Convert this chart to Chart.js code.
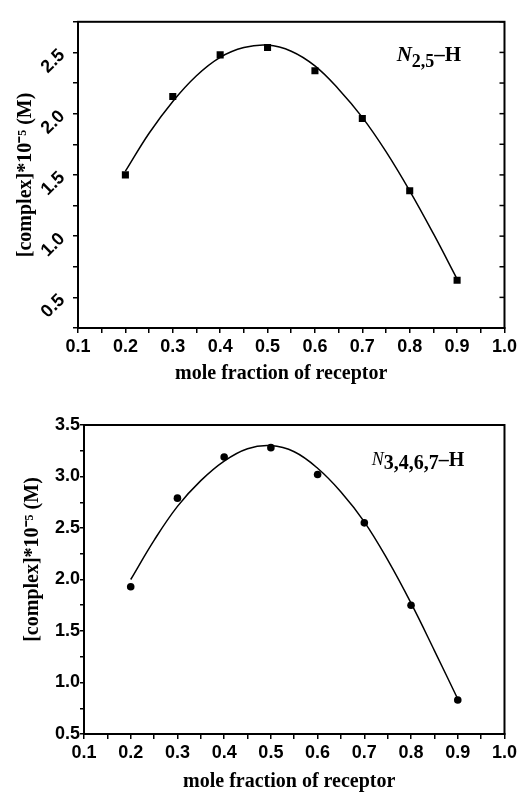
<!DOCTYPE html>
<html>
<head>
<meta charset="utf-8">
<script src="https://cdn.jsdelivr.net/npm/chart.js@4.4.1/dist/chart.umd.min.js"></script>
<style>
  body { margin: 0; background: #fff; }
  .panel { position: absolute; left: 0; width: 520px; }
  #top { top: 0; height: 390px; }
  #bottom { top: 390px; height: 405px; }
</style>
</head>
<body>
<div class="panel" id="top"><canvas id="chartTop" width="520" height="390"></canvas></div>
<div class="panel" id="bottom"><canvas id="chartBottom" width="520" height="405"></canvas></div>
<script>
// measured points (mole fraction of receptor)
var xValues = [0.2, 0.3, 0.4, 0.5, 0.6, 0.7, 0.8, 0.9];
var topPoints = [1.50, 2.14, 2.48, 2.54, 2.35, 1.96, 1.37, 0.64];
var bottomPoints = [1.93, 2.79, 3.19, 3.28, 3.02, 2.55, 1.75, 0.83];

// fitted curves
var fitX = [0.2, 0.25, 0.3, 0.35, 0.4, 0.45, 0.5, 0.55, 0.6, 0.65, 0.7, 0.75, 0.8, 0.85, 0.9];
var topFit = [1.53, 1.84, 2.10, 2.31, 2.46, 2.54, 2.56, 2.51, 2.39, 2.20, 1.97, 1.69, 1.37, 1.02, 0.65];
var bottomFit = [2.00, 2.38, 2.71, 2.96, 3.15, 3.27, 3.30, 3.24, 3.08, 2.85, 2.56, 2.19, 1.77, 1.31, 0.84];

// tick labels
var xTickLabels = ['0.1', '0.2', '0.3', '0.4', '0.5', '0.6', '0.7', '0.8', '0.9', '1.0'];
var topYTickLabels = ['0.5', '1.0', '1.5', '2.0', '2.5'];
var bottomYTickLabels = ['0.5', '1.0', '1.5', '2.0', '2.5', '3.0', '3.5'];

var sansBold = { family: '"Liberation Sans", Arial, sans-serif', size: 18, weight: 'bold' };
var serifBold = { family: '"Liberation Serif", "Times New Roman", serif', size: 20, weight: 'bold' };
var nbsp = '\u00A0';

function pairs(xs, ys) {
  return xs.map(function (x, i) { return { x: x, y: ys[i] }; });
}

function pickLabel(list, v) {
  for (var i = 0; i < list.length; i++) {
    if (Math.abs(parseFloat(list[i]) - v) < 1e-6) return list[i];
  }
  return '';
}

// box round the plot, inward right ticks, and the panel label
var framePlugin = {
  id: 'frame',
  afterDatasetsDraw: function (chart, args, opts) {
    var ctx = chart.ctx, a = chart.chartArea, y = chart.scales.y, x = chart.scales.x;
    ctx.save();
    ctx.strokeStyle = '#000';
    ctx.lineWidth = 2;
    ctx.strokeRect(a.left, a.top, a.right - a.left, a.bottom - a.top);
    if (opts.rightTicks) {
      ctx.lineWidth = 1.5;
      y.ticks.forEach(function (t) {
        var py = y.getPixelForValue(t.value);
        ctx.beginPath();
        ctx.moveTo(a.right, py);
        ctx.lineTo(a.right - 5, py);
        ctx.stroke();
      });
    }
    if (opts.label) {
      var px = x.getPixelForValue(opts.label.x);
      var py = y.getPixelForValue(opts.label.y);
      ctx.fillStyle = '#000';
      ctx.textBaseline = 'alphabetic';
      ctx.textAlign = 'left';
      opts.label.parts.forEach(function (p) {
        ctx.font = p.font;
        ctx.fillText(p.text, px, py + p.dy);
        px += ctx.measureText(p.text).width;
      });
    }
    ctx.restore();
  }
};

function makeChart(id, cfg) {
  return new Chart(document.getElementById(id), {
    type: 'scatter',
    data: {
      datasets: [{
        data: pairs(xValues, cfg.points),
        pointStyle: cfg.pointStyle,
        pointRadius: cfg.pointRadius,
        backgroundColor: '#000',
        borderColor: '#000',
        borderWidth: 0,
        showLine: false
      }, {
        data: pairs(fitX, cfg.fit),
        showLine: true,
        pointRadius: 0,
        borderColor: '#000',
        borderWidth: 1.5,
        tension: 0.4,
        fill: false
      }]
    },
    options: {
      responsive: false,
      animation: false,
      layout: { padding: cfg.padding },
      plugins: {
        legend: { display: false },
        tooltip: { enabled: false },
        frame: { rightTicks: cfg.rightTicks, label: cfg.label }
      },
      scales: {
        x: {
          type: 'linear',
          min: 0.1,
          max: 1.0,
          border: { display: true, color: '#000', width: 2 },
          grid: { drawOnChartArea: false, color: '#000', lineWidth: 1.5, tickLength: 5 },
          ticks: {
            stepSize: 0.05,
            autoSkip: false,
            minRotation: 0,
            maxRotation: 0,
            padding: 3,
            color: '#000',
            font: sansBold,
            callback: function (v) { return pickLabel(xTickLabels, v); }
          },
          title: {
            display: true,
            text: 'mole fraction of receptor' + nbsp.repeat(cfg.xTitleShift),
            color: '#000',
            font: serifBold,
            padding: { top: 0, bottom: cfg.xTitlePad }
          },
          afterFit: function (s) { s.height = cfg.xHeight; }
        },
        y: {
          type: 'linear',
          min: cfg.yMin,
          max: cfg.yMax,
          border: { display: true, color: '#000', width: 2 },
          grid: { drawOnChartArea: false, color: '#000', lineWidth: 1.5, tickLength: cfg.yTickLen },
          ticks: {
            stepSize: 0.25,
            autoSkip: false,
            minRotation: cfg.yRotation,
            maxRotation: cfg.yRotation,
            padding: cfg.yTickPad,
            color: '#000',
            font: sansBold,
            callback: function (v) { return pickLabel(cfg.yLabels, v); }
          },
          title: {
            display: true,
            text: nbsp.repeat(cfg.yTitleShift) + '[complex]*10\u207B\u2075 (M)',
            color: '#000',
            font: serifBold,
            padding: { top: cfg.yTitlePad, bottom: 0 }
          },
          afterFit: function (s) { s.width = cfg.yWidth; }
        }
      }
    },
    plugins: [framePlugin]
  });
}

makeChart('chartTop', {
  points: topPoints,
  fit: topFit,
  pointStyle: 'rect',
  pointRadius: 5,
  yMin: 0.25,
  yMax: 2.75,
  yLabels: topYTickLabels,
  yRotation: 45,
  yTickPad: 11,
  yTickLen: 5,
  yWidth: 78,
  yTitlePad: 14,
  yTitleShift: 0,
  xHeight: 62,
  xTitlePad: 4,
  xTitleShift: 4,
  rightTicks: true,
  padding: { top: 16, right: 15, left: 0, bottom: 0 },
  label: {
    x: 0.7725, y: 2.434,
    parts: [
      { text: 'N', font: 'italic bold 21px "Liberation Serif"', dy: 0 },
      { text: '2,5', font: 'bold 18px "Liberation Serif"', dy: 6 },
      { text: '\u2013H', font: 'bold 21px "Liberation Serif"', dy: 0 }
    ]
  }
});

makeChart('chartBottom', {
  points: bottomPoints,
  fit: bottomFit,
  pointStyle: 'circle',
  pointRadius: 3.8,
  yMin: 0.5,
  yMax: 3.5,
  yLabels: bottomYTickLabels,
  yRotation: 0,
  yTickPad: 0,
  yTickLen: 4,
  yWidth: 84,
  yTitlePad: 21,
  yTitleShift: 8,
  xHeight: 61,
  xTitlePad: 1,
  xTitleShift: 2,
  rightTicks: false,
  padding: { top: 35, right: 14, left: 0, bottom: 0 },
  label: {
    x: 0.716, y: 3.11,
    parts: [
      { text: 'N', font: 'italic 18px "Liberation Serif"', dy: 0 },
      { text: '3,4,6,7', font: 'bold 20px "Liberation Serif"', dy: 4 },
      { text: '\u2013H', font: 'bold 20px "Liberation Serif"', dy: 1 }
    ]
  }
});
</script>
</body>
</html>
